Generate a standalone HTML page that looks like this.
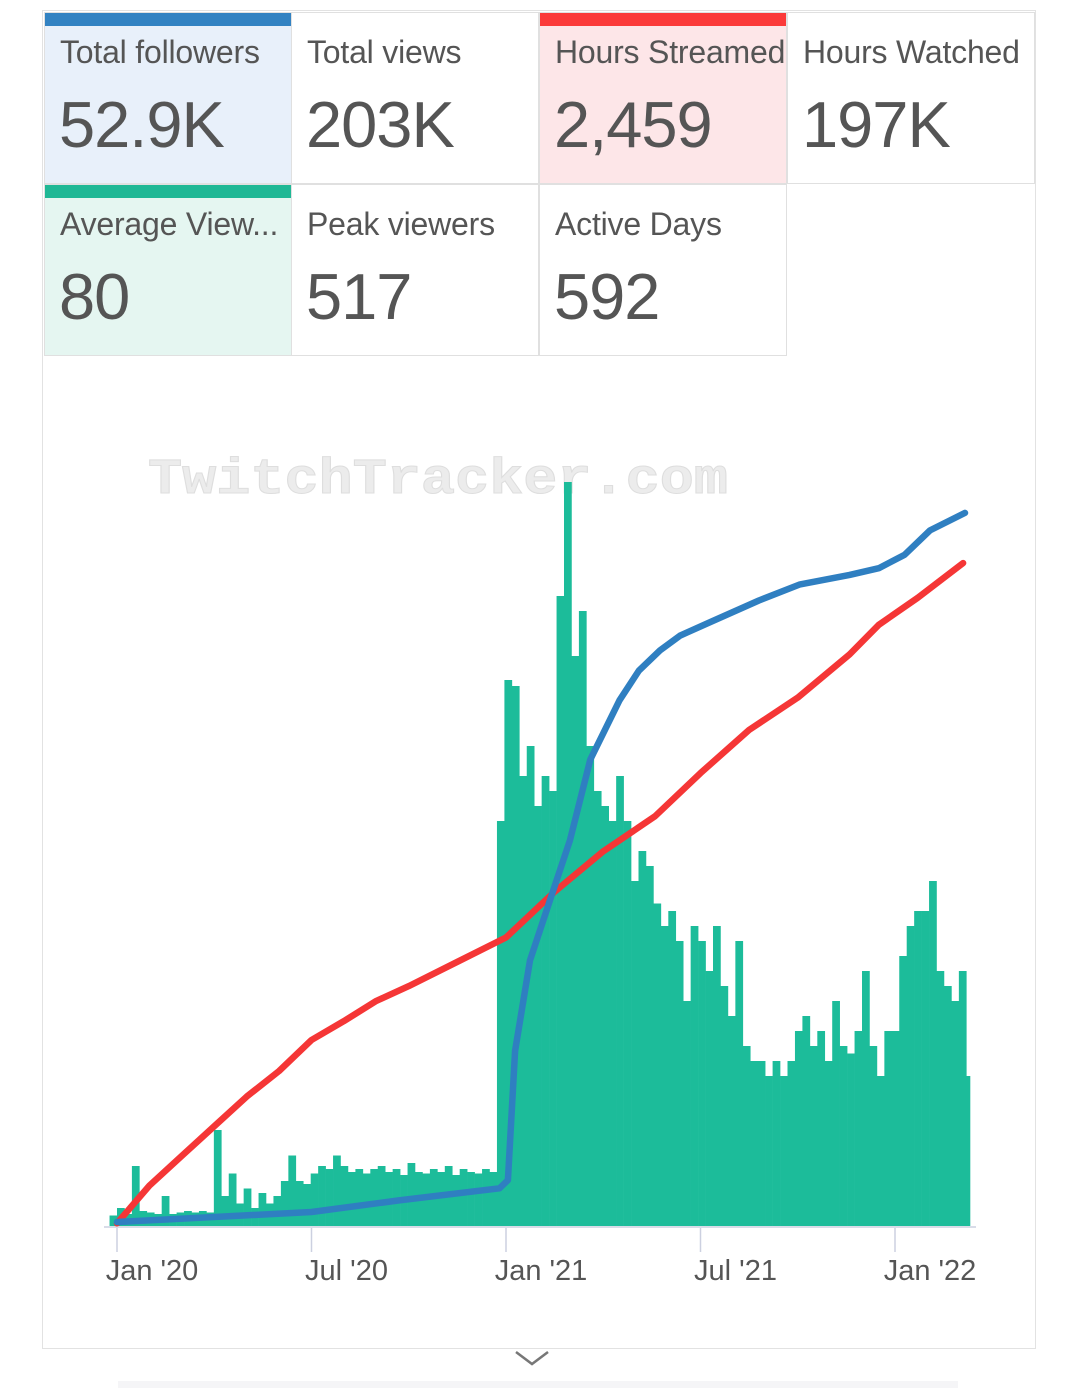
<!DOCTYPE html>
<html><head><meta charset="utf-8"><style>
body{margin:0;background:#fff;width:1080px;height:1388px;overflow:hidden;font-family:"Liberation Sans",sans-serif;}
.wrap{position:absolute;left:42px;top:10px;width:994px;height:1339px;border:1px solid #e2e2e2;box-sizing:border-box;}
.card{position:absolute;width:248px;height:172px;border:1px solid #e0e0e0;box-sizing:border-box;color:#555;overflow:hidden;}
.card .lab{position:absolute;left:15px;top:21px;font-size:32px;white-space:nowrap;letter-spacing:-0.2px;}
.card .val{position:absolute;left:14px;top:74px;font-size:65px;white-space:nowrap;letter-spacing:-1px;}
.card .bar{position:absolute;left:0;top:0;width:100%;height:13px;}
svg{position:absolute;left:0;top:0;}
</style></head><body>
<div class="wrap"></div>
<div class="card" style="left:44px;top:12px;background:#e8f0fa"><div class="bar" style="background:#3282c2"></div><div class="lab">Total followers</div><div class="val">52.9K</div></div>
<div class="card" style="left:291px;top:12px;background:#fff"><div class="lab">Total views</div><div class="val">203K</div></div>
<div class="card" style="left:539px;top:12px;background:#fde6e8"><div class="bar" style="background:#fb3a3a"></div><div class="lab">Hours Streamed</div><div class="val">2,459</div></div>
<div class="card" style="left:787px;top:12px;background:#fff"><div class="lab">Hours Watched</div><div class="val">197K</div></div>
<div class="card" style="left:44px;top:184px;background:#e5f6f1"><div class="bar" style="background:#1fb895"></div><div class="lab">Average View...</div><div class="val">80</div></div>
<div class="card" style="left:291px;top:184px;background:#fff"><div class="lab">Peak viewers</div><div class="val">517</div></div>
<div class="card" style="left:539px;top:184px;background:#fff"><div class="lab">Active Days</div><div class="val">592</div></div>
<svg id="chart" width="1080" height="1388"></svg>
<script>
const viewerValues=[7,12,8,40,10,9,8,20,8,9,10,9,10,9,64,20,35,15,25,12,22,15,20,30,47,30,28,35,40,38,47,40,36,38,35,38,40,36,38,34,42,36,35,38,36,40,34,38,36,35,38,36,270,364,360,300,320,280,300,290,420,496,380,410,320,290,280,270,300,270,230,250,240,215,200,210,190,150,200,190,170,200,160,140,190,120,110,110,100,110,100,110,130,140,120,130,110,150,120,115,130,170,120,100,130,130,180,200,210,210,230,170,160,150,170,100];
const barStartDay=-7, barDays=7;
const followerMonths=[0,6,8.7,11.8,12.06,12.28,12.74,13.36,13.97,14.6,15.05,15.5,16.1,16.75,17.37,18.3,19.8,21.07,22.6,23.5,24.3,25.08,26.16];
const followerK=[0.3,1.04,1.9,2.8,3.4,13,19.7,24.2,28.6,34.6,36.8,39,41.2,42.7,43.8,44.8,46.4,47.6,48.3,48.8,49.8,51.6,52.9];
const hoursMonths=[0,1,2,3,4,5,6,7,8,9,10.5,12,13.5,15,16.6,18,19.5,21,22.6,23.5,24.7,26.1];
const hoursValues=[10,150,260,370,480,575,690,760,835,890,980,1070,1240,1390,1520,1680,1840,1960,2120,2230,2330,2459];
const xTicks=[0,6,12,18,24];
const xTickLabels=["Jan '20","Jul '20","Jan '21","Jul '21","Jan '22"];
const NS="http://www.w3.org/2000/svg";
const svg=document.getElementById('chart');
const baseY=1226;
function xDay(d){return 117+d*(778/731);}
function xMonth(m){return 117+m*(778/24);}
function yViewers(v){return baseY-v*1.5;}
function yFollowers(k){return baseY-k*13.48;}
function yHours(h){return baseY-h*0.2696;}
function mk(t,a){const e=document.createElementNS(NS,t);for(const k in a)e.setAttribute(k,a[k]);svg.appendChild(e);return e;}
const wm=mk('text',{x:148,y:493,'font-family':'Liberation Mono, monospace','font-weight':'bold','font-size':50,fill:'#ececec',stroke:'#dedede','stroke-width':1,textLength:580,lengthAdjust:'spacingAndGlyphs'});
wm.textContent='TwitchTracker.com';


viewerValues.forEach((v,i)=>{
  const x0=xDay(barStartDay+i*barDays), x1=xDay(barStartDay+(i+1)*barDays);
  const r=mk('rect',{x:x0,y:yViewers(v),width:Math.max(0,Math.min(x1,970)-x0)+0.3,height:baseY-yViewers(v),fill:'#1cbc9a'});
  
  
});
const ax=mk('line',{x1:104,x2:976,y1:baseY+1,y2:baseY+1,stroke:'#d8dce8','stroke-width':2});


xTicks.forEach((m,i)=>{
  const x=xMonth(m);
  const t=mk('line',{x1:x,x2:x,y1:baseY+2,y2:baseY+26,stroke:'#ccd0e0','stroke-width':1.5});
  
  
  const l=mk('text',{x:x+35,y:1280,'text-anchor':'middle','font-size':29,fill:'#555','font-family':'Liberation Sans, sans-serif'});
  l.textContent=xTickLabels[i];
  
  
});
function line(ms,vs,yf,c,name){
  const d=ms.map((m,i)=>(i?'L':'M')+xMonth(m).toFixed(1)+','+yf(vs[i]).toFixed(1)).join(' ');
  const p=mk('path',{d:d,fill:'none',stroke:c,'stroke-width':6.5,'stroke-linejoin':'round','stroke-linecap':'round'});
  
  
}
line(hoursMonths,hoursValues,yHours,'#f53636','hours-streamed-line');
line(followerMonths,followerK,yFollowers,'#2f7fc1','followers-line');
const ch=mk('path',{d:'M516,1352 L532,1364 L548,1352',fill:'none',stroke:'#777','stroke-width':2.5});


const fb=mk('rect',{x:118,y:1381,width:840,height:7,fill:'#f5f5f7'});


</script>
</body></html>
